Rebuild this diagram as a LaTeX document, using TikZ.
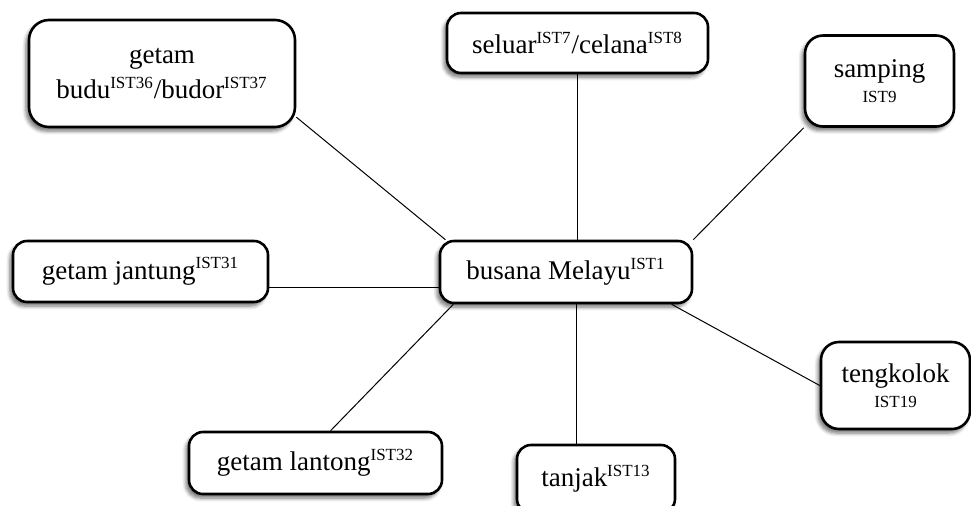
\documentclass[tikz,border=0pt]{standalone}
\usepackage{fontspec}
\setmainfont{Liberation Serif}
\usetikzlibrary{shadows.blur}
\newcommand{\ist}[1]{\textsuperscript{\fontsize{8.5}{9}\selectfont IST#1}}
\newcommand{\istline}[1]{{\fontsize{8.5}{10}\selectfont IST#1}}

\begin{document}
\begin{tikzpicture}[x=0.5pt,y=-0.5pt,
    box/.style={draw,line width=1.3pt,rounded corners=7pt,fill=white,
      blur shadow={shadow xshift=-1.5pt,shadow yshift=-2pt,shadow opacity=55,
        shadow blur steps=6},
      inner sep=0pt,align=center,font=\fontsize{13.5}{16}\selectfont},
    link/.style={line width=0.5pt}]
    \useasboundingbox (0,0) rectangle (971,505);
    \node[box,minimum width=133pt,minimum height=53.5pt,rounded corners=10pt] (budu)
      at (162,73.5) {getam\\[1.5pt]budu\ist{36}/budor\ist{37}};
    \node[box,minimum width=130.5pt,minimum height=30pt] (seluar)
      at (577.5,43) {seluar\ist{7}/celana\ist{8}};
    \node[box,minimum width=74.5pt,minimum height=45.5pt,rounded corners=9pt] (samping)
      at (879.5,81) {samping\\[-3.5pt]\istline{9}};
    \node[box,minimum width=127.5pt,minimum height=30.5pt] (jantung)
      at (140.5,271.5) {getam jantung\ist{31}};
    \node[box,minimum width=126pt,minimum height=31pt] (busana)
      at (566,272) {busana Melayu\ist{1}};
    \node[box,minimum width=126.5pt,minimum height=31pt] (lantong)
      at (315.5,463) {getam lantong\ist{32}};
    \node[box,minimum width=79pt,minimum height=34pt] (tanjak)
      at (596,479) {tanjak\ist{13}};
    \node[box,minimum width=74.5pt,minimum height=43.5pt,rounded corners=9pt] (tengkolok)
      at (895.5,385.5) {tengkolok\\[-3.5pt]\istline{19}};
    \draw[link] (budu.-18) -- (busana.165);
    \draw[link] (seluar.south) -- (seluar.south |- busana.north);
    \draw[link] (samping.south west) -- (busana.north east);
    \draw[link] (jantung.east |- busana.187) -- (busana.187);
    \draw[link] (lantong.65) -- (busana.196);
    \draw[link] (busana.-72) -- (busana.-72 |- tanjak.north);
    \draw[link] (busana.-17) -- (tengkolok.west);
  \end{tikzpicture}
\end{document}
